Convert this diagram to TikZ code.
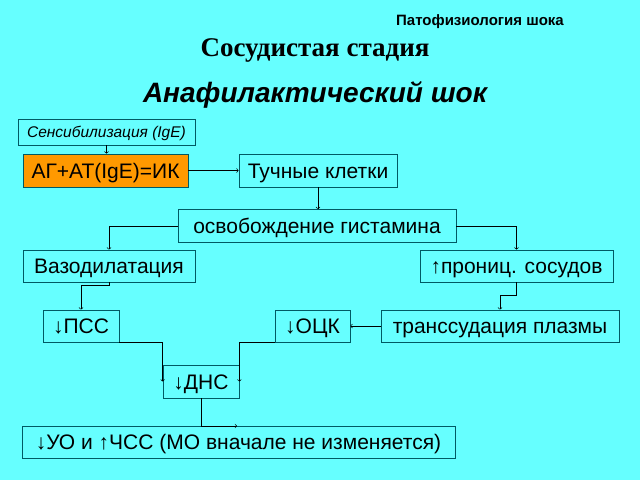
\documentclass[tikz,border=0pt]{standalone}
\usepackage{fontspec}
\setmainfont{Liberation Sans}
\newfontfamily\timesfont{Liberation Serif}
\definecolor{slidebg}{RGB}{102,255,255}
\definecolor{boxline}{RGB}{0,90,100}
\definecolor{agfill}{RGB}{255,153,0}

\begin{document}
\begin{tikzpicture}[x=1pt, y=-1pt,
  box/.style={draw=boxline, line width=0.8pt, inner sep=0pt, text height=15pt, text depth=0pt, font=\fontsize{21}{24}\selectfont},
  every path/.style={line width=0.6pt}]

  \useasboundingbox[fill=slidebg] (0,0) rectangle (640,480);

  % titles
  \node (kurs) at (480, 22) {\fontsize{15}{18}\selectfont\bfseries Патофизиология шока};
  \node (stadia) at (315, 50) {\timesfont\fontsize{27}{30}\selectfont\bfseries Сосудистая стадия};
  \node (shok) at (315, 95) {\fontsize{28}{32}\selectfont\bfseries\itshape Анафилактический шок};

  % top row
  \node (sens) at (106.5, 132) [box, minimum width=177pt, minimum height=26pt, text height=11pt, font=\fontsize{15.5}{18}\selectfont\itshape] {Сенсибилизация (IgE)};
  \node (ag) at (105.5, 170.5) [box, fill=agfill, minimum width=165pt, minimum height=33pt] {АГ+АТ(IgE)=ИК};
  \node (tuch) at (318, 170.5) [box, minimum width=158pt, minimum height=33pt] {Тучные клетки};
  \draw[->] (sens.south) -- (sens.south |- ag.north);
  \draw[->] (ag) -- (tuch);

  % histamine
  \node (gist) at (317, 226) [box, minimum width=278pt, minimum height=33pt] {освобождение гистамина};
  \draw[->] (tuch.south) -- (tuch.south |- gist.north);

  % two branches
  \node (vaso) at (109, 266) [box, minimum width=172pt, minimum height=32pt] {Вазодилатация};
  \node (pron) at (516.5, 266) [box, minimum width=193pt, minimum height=32pt] {↑прониц. сосудов};
  \draw[->] (gist.west) -| (vaso.north);
  \draw[->] (gist.east) -| (pron.north);

  \node (pss) at (81, 326) [box, minimum width=76pt, minimum height=32pt] {↓ПСС};
  \node (ock) at (312.5, 326) [box, minimum width=75pt, minimum height=32pt] {↓ОЦК};
  \node (trans) at (500, 326) [box, minimum width=238pt, minimum height=32pt] {транссудация плазмы};
  \draw[->] (vaso.south) -- ++(0,3) -| (pss.north);
  \draw[->] (pron.south) -- ++(0,13) -| (trans.north);
  \draw[->] (trans) -- (ock);

  % DNS
  \node (dns) at (201, 381.5) [box, minimum width=76pt, minimum height=33pt] {↓ДНС};
  \draw[->] (pss.south east) -| (dns.west);
  \draw[->] (ock.south west) -| (dns.east);

  % result
  \node (uo) at (238.5, 442) [box, minimum width=433pt, minimum height=32pt] {↓УО и ↑ЧСС (МО вначале не изменяется)};
  \coordinate (uotip) at (237, 426);
  \draw[->] (dns.south) |- (uotip);

\end{tikzpicture}
\end{document}
